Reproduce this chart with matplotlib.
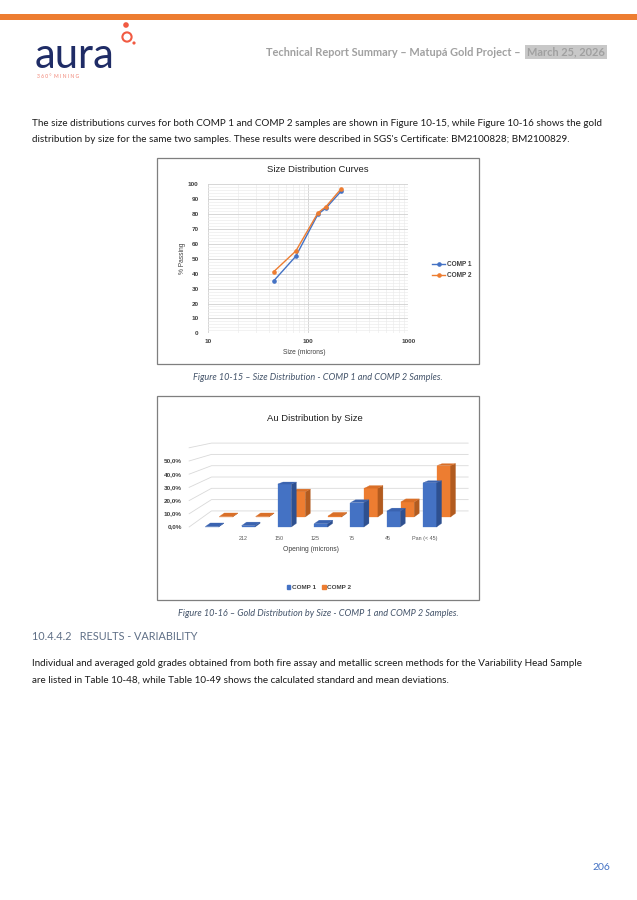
import matplotlib
matplotlib.use("Agg")
import matplotlib.pyplot as plt
from matplotlib.patches import Rectangle, Circle, Polygon, Patch

# Figure 10-15: size distribution curves (% passing vs size in microns)
sizes = [45, 75, 125, 150, 212]
comp1_passing = [35.1, 51.7, 80.0, 84.0, 95.2]
comp2_passing = [41.3, 55.2, 80.9, 85.0, 96.8]

# Figure 10-16: Au distribution by size
openings = ["", "212", "150", "125", "75", "45", "Pan (< 45)"]
comp1_au = [0.3, 1.0, 32.5, 2.5, 18.5, 12.0, 33.5]
comp2_au = [0.3, 0.3, 21.0, 0.8, 24.0, 12.5, 43.0]
au_ticks = [0, 10, 20, 30, 40, 50]
au_wall_top = 60

para1 = ["The size distributions curves for both COMP 1 and COMP 2 samples are shown in Figure 10-15, while Figure 10-16 shows the gold",
         "distribution by size for the same two samples. These results were described in SGS's Certificate: BM2100828; BM2100829."]
para2 = ["Individual and averaged gold grades obtained from both fire assay and metallic screen methods for the Variability Head Sample",
         "are listed in Table 10-48, while Table 10-49 shows the calculated standard and mean deviations."]

BLUE, ORANGE = "#4472C4", "#ED7D31"
W, H = 637, 900
plt.rcParams['font.family'] = ['Lato', 'DejaVu Sans']
chart_font = ['Liberation Sans', 'DejaVu Sans']

fig = plt.figure(figsize=(W / 100, H / 100), dpi=100)

# page layer in pixel coordinates
page = fig.add_axes([0, 0, 1, 1])
page.set_xlim(0, W)
page.set_ylim(H, 0)
page.axis("off")

page.add_patch(Rectangle((0, 14), W, 6, color="#ED7D31", lw=0))
page.text(35, 68, "aura", fontsize=30, color="#1F2C66", fontweight="normal", va="baseline")
page.text(37, 77, "3 6 0 °  M I N I N G", fontsize=3.6, color="#F08070", va="center")
page.add_patch(Circle((126, 25), 2.8, color="#F15A42", lw=0))
page.add_patch(Circle((127, 37), 4.6, fill=False, ec="#F15A42", lw=1.5))
page.add_patch(Circle((134, 43), 1.6, color="#F15A42", lw=0))

page.text(521, 52, "Technical Report Summary \u2013 Matup\u00e1 Gold Project \u2013", fontsize=7.9,
          fontweight="bold", color="#A0A0A0", ha="right", va="center")
page.text(527, 52, "March 25, 2026", fontsize=7.9, fontweight="bold", color="#A0A0A0", ha="left", va="center",
          bbox=dict(boxstyle="square,pad=0.15", fc="#C8C8C8", ec="none"))

for k, line in enumerate(para1):
    page.text(32, 124 + 15 * k, line, fontsize=7.12, color="#1a1a1a", va="center")
for k, line in enumerate(para2):
    page.text(32, 664 + 16 * k, line, fontsize=7.12, color="#1a1a1a", va="center")

page.text(318, 378, "Figure 10-15 \u2013 Size Distribution - COMP 1 and COMP 2 Samples.", fontsize=6.6,
          style="italic", color="#44546A", ha="center", va="center")
page.text(318, 614, "Figure 10-16 \u2013 Gold Distribution by Size - COMP 1 and COMP 2 Samples.", fontsize=6.6,
          style="italic", color="#44546A", ha="center", va="center")
page.text(32, 637, "10.4.4.2   RESULTS - VARIABILITY", fontsize=7.8, color="#5F6F86", va="center")
page.text(601, 867, "206", fontsize=7.5, color=BLUE, ha="center", va="center")

page.add_patch(Rectangle((157, 158), 322, 206, fill=False, ec="#7F7F7F", lw=0.9))
page.add_patch(Rectangle((157, 396), 322, 204, fill=False, ec="#7F7F7F", lw=0.9))

# ---- Figure 10-15 ----
ax1 = fig.add_axes([208.3 / W, 1 - 333.3 / H, 200 / W, 149 / H])
ax1.set_xscale("log")
ax1.set_xlim(10, 1000)
ax1.set_ylim(0, 100)
ax1.set_yticks(range(0, 101, 10))
ax1.set_yticks(range(0, 101, 2), minor=True)
ax1.set_xticks([10, 100, 1000])
ax1.set_xticklabels(["10", "100", "1000"])
ax1.grid(True, which="major", color="#D0D0D0", lw=0.6)
ax1.grid(True, which="minor", color="#EBEBEB", lw=0.45)
ax1.set_axisbelow(True)
for s in ax1.spines.values():
    s.set_visible(False)
ax1.tick_params(which="both", length=0)
ax1.tick_params(axis="y", pad=7)
ax1.tick_params(axis="x", pad=4)
for lbl in ax1.get_xticklabels() + ax1.get_yticklabels():
    lbl.set_fontsize(4.6)
    lbl.set_fontweight("bold")
    lbl.set_color("#404040")
    lbl.set_family(chart_font)
ax1.xaxis.set_minor_formatter(plt.NullFormatter())

ax1.plot(sizes, comp1_passing, color=BLUE, lw=1.0, marker="o", ms=2.3, label="COMP 1")
ax1.plot(sizes, comp2_passing, color=ORANGE, lw=1.0, marker="o", ms=2.3, label="COMP 2")

ax1.text(0.55, 1.096, "Size Distribution Curves", transform=ax1.transAxes, ha="center", va="center",
         fontsize=6.8, color="#202020", family=chart_font)
ax1.text(0.48, -0.126, "Size (microns)", transform=ax1.transAxes, ha="center", va="center",
         fontsize=4.8, color="#404040", family=chart_font)
ax1.text(-0.127, 0.505, "% Passing", transform=ax1.transAxes, ha="center", va="center", rotation=90,
         fontsize=4.8, color="#404040", family=chart_font)
leg = ax1.legend(loc="center left", bbox_to_anchor=(1.09, 0.425), frameon=False, handlelength=2.0,
                 handletextpad=0.3, labelspacing=0.6,
                 prop=dict(family=chart_font, size=4.7, weight="bold"))
for t in leg.get_texts():
    t.set_color("#404040")

# ---- Figure 10-16 (3-D style columns) ----
ax2 = fig.add_axes([157 / W, 1 - 600 / H, 322 / W, 204 / H])
ax2.set_xlim(-1.515, 7.355)
ax2.set_ylim(-55.3, 99.2)
ax2.axis("off")
ax2.patch.set_visible(False)

OX, OY, K = 0.385, 7.6, 0.105
WALL_Z, BAR_W, BAR_D = 1.6, 0.37, 0.36
FLOOR_L, FLOOR_R = -0.63, 6.44


def proj(x, y, z):
    s = 1.0 / (1.0 + K * z)
    return (x + OX * z, y * s + OY * z)


for v in range(0, au_wall_top + 1, 10):
    p0 = proj(FLOOR_L, v, 0)
    p1 = proj(FLOOR_L, v, WALL_Z)
    p2 = proj(FLOOR_R, v, WALL_Z)
    ax2.plot([p0[0], p1[0], p2[0]], [p0[1], p1[1], p2[1]], color="#D9D9D9", lw=0.6, zorder=1)


def draw_bar(i, v, z, front, side, top):
    x0, x1 = i - BAR_W / 2, i + BAR_W / 2
    faces = [
        ([proj(x0, 0, z), proj(x1, 0, z), proj(x1, v, z), proj(x0, v, z)], front),
        ([proj(x1, 0, z), proj(x1, 0, z + BAR_D), proj(x1, v, z + BAR_D), proj(x1, v, z)], side),
        ([proj(x0, v, z), proj(x1, v, z), proj(x1, v, z + BAR_D), proj(x0, v, z + BAR_D)], top),
    ]
    for pts, c in faces:
        ax2.add_patch(Polygon(pts, closed=True, fc=c, ec=c, lw=0.2, zorder=3))


for i, v in enumerate(comp2_au):
    draw_bar(i, v, 1.0, ORANGE, "#B25B1F", "#D96F28")
for i, v in enumerate(comp1_au):
    draw_bar(i, v, 0.0, BLUE, "#2E5090", "#3A63B0")

for v in au_ticks:
    ax2.text(-0.83, v, f"{v:.1f}%".replace(".", ","), ha="right", va="center", fontsize=4.6,
             fontweight="bold", color="#404040", family=chart_font)
for i, lab in enumerate(openings):
    ax2.text(i - 0.15, -9, lab, ha="center", va="center", fontsize=3.9, color="#595959", family=chart_font)
ax2.text(2.73, -17, "Opening (microns)", ha="center", va="center", fontsize=4.9, color="#404040",
         family=chart_font)
ax2.text(0.49, 0.892, "Au Distribution by Size", transform=ax2.transAxes, ha="center", va="center",
         fontsize=6.8, color="#202020", family=chart_font)
handles = [Patch(color=BLUE, label="COMP 1"), Patch(color=ORANGE, label="COMP 2")]
leg2 = ax2.legend(handles=handles, loc="center", bbox_to_anchor=(0.503, 0.061), ncol=2, frameon=False,
                  handlelength=0.55, handleheight=0.55, handletextpad=0.25, columnspacing=1.0,
                  prop=dict(family=chart_font, size=4.6, weight="bold"))
for t in leg2.get_texts():
    t.set_color("#404040")

fig.savefig("out.png", dpi=100)
